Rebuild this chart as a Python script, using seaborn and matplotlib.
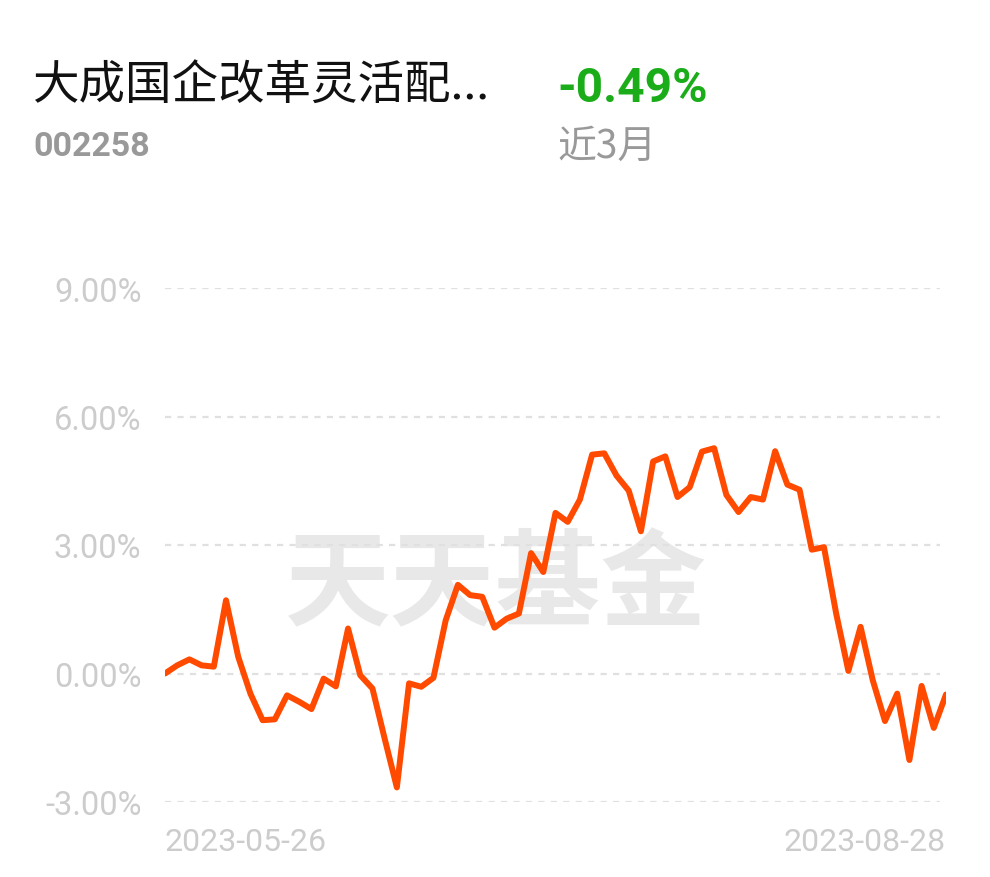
import numpy as np
import pandas as pd
import matplotlib
matplotlib.use("Agg")
import matplotlib.pyplot as plt
import seaborn as sns

fund_name = "大成国企改革灵活配..."
fund_code = "002258"
period_return = "-0.49%"
period_label = "近3月"
start_date = "2023-05-26"
end_date = "2023-08-28"

# cumulative return (%) per trading day
returns = [
    0.00, 0.19, 0.33, 0.19, 0.16, 1.71, 0.39, -0.47, -1.09, -1.07,
    -0.51, -0.66, -0.83, -0.12, -0.30, 1.05, -0.04, -0.35, -1.52, -2.66,
    -0.23, -0.31, -0.10, 1.24, 2.07, 1.83, 1.79, 1.07, 1.28, 1.40,
    2.81, 2.37, 3.75, 3.54, 4.06, 5.11, 5.14, 4.62, 4.27, 3.32,
    4.95, 5.07, 4.12, 4.35, 5.18, 5.26, 4.17, 3.77, 4.12, 4.06,
    5.19, 4.41, 4.29, 2.89, 2.95, 1.40, 0.06, 1.09, -0.16, -1.11,
    -0.47, -2.02, -0.29, -1.27, -0.49,
]
y_ticks = [-3, 0, 3, 6, 9]

sns.set_style("white")
plt.rcParams["font.family"] = ["Roboto", "Noto Sans CJK SC", "DejaVu Sans"]

df = pd.DataFrame({"day": np.arange(len(returns)), "ret": returns})

fig = plt.figure(figsize=(9.9, 8.78), dpi=100)
ax = fig.add_axes([165 / 990, 1 - 803 / 878, 781 / 990, 514 / 878])

# watermark
ax.text(0.424, 0.42, "天天基金", transform=ax.transAxes, ha="center", va="center",
        fontsize=76, fontweight="bold", color="#e8e8e8",
        family=["Noto Sans CJK SC"], zorder=0)

sns.lineplot(data=df, x="day", y="ret", ax=ax, color="#ff4a00", linewidth=4.3,
             zorder=3)

ax.set_xlim(0, len(returns) - 1)
ax.set_ylim(-3, 9)
ax.set_yticks(y_ticks)
ax.set_yticklabels([f"{v:.2f}%" for v in y_ticks])
for v in y_ticks:
    ax.axhline(v, xmin=0, xmax=0.992, color="#e0e0e0", linewidth=1.6,
               dashes=(2.8, 2.8), zorder=1)

ax.set_xticks([0, len(returns) - 1])
ax.set_xticklabels([start_date, end_date])
labels = ax.get_xticklabels()
labels[0].set_ha("left")
labels[1].set_ha("right")

ax.tick_params(axis="y", length=0, pad=17, labelsize=23.5, labelcolor="#cccccc")
ax.tick_params(axis="x", length=0, pad=18, labelsize=23, labelcolor="#cccccc")
ax.set_xlabel("")
ax.set_ylabel("")
for s in ax.spines.values():
    s.set_visible(False)

fig.text(32 / 990, 1 - 87 / 878, fund_name, ha="left", va="center", fontsize=33.5,
         color="#111111", family=["Noto Sans CJK SC", "DejaVu Sans"])
fig.text(33 / 990, 1 - 147 / 878, fund_code, ha="left", va="center", fontsize=24.5,
         fontweight="bold", color="#999999")
fig.text(557 / 990, 1 - 89 / 878, period_return, ha="left", va="center",
         fontsize=34.5, fontweight="bold", color="#1aad19")
fig.text(557 / 990, 1 - 147 / 878, period_label, ha="left", va="center",
         fontsize=28, color="#999999", family=["Noto Sans CJK SC", "DejaVu Sans"])

fig.savefig("out.png", dpi=100, facecolor="white")
